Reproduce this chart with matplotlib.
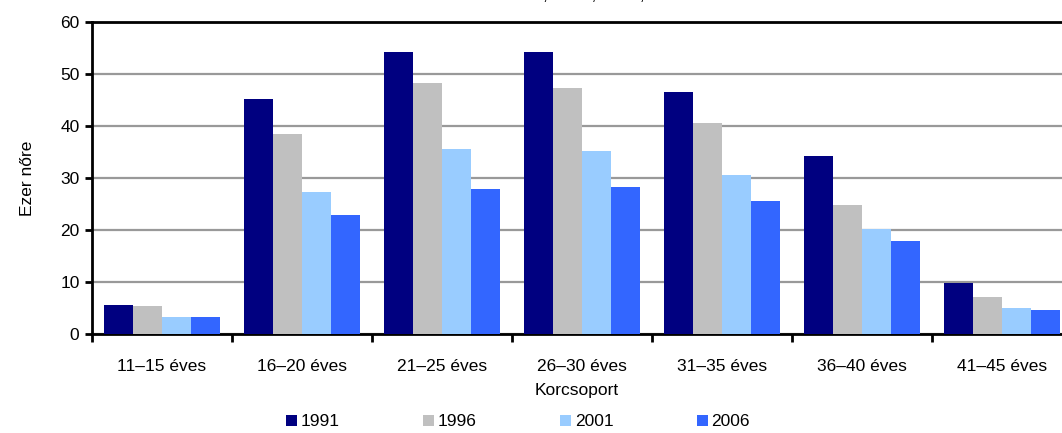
import matplotlib
matplotlib.use("Agg")
import matplotlib.pyplot as plt
import numpy as np

plt.rcParams["font.family"] = ["Liberation Sans", "DejaVu Sans"]

categories = ["11–15 éves", "16–20 éves", "21–25 éves", "26–30 éves",
              "31–35 éves", "36–40 éves", "41–45 éves"]
years = ["1991", "1996", "2001", "2006"]
v1991 = [5.5, 45.2, 54.2, 54.2, 46.5, 34.3, 9.8]
v1996 = [5.3, 38.4, 48.2, 47.3, 40.5, 24.9, 7.1]
v2001 = [3.2, 27.3, 35.5, 35.1, 30.5, 20.1, 5.0]
v2006 = [3.2, 22.9, 27.8, 28.2, 25.5, 17.9, 4.7]
colors = ["#000080", "#C0C0C0", "#99CCFF", "#3366FF"]

fig = plt.figure(figsize=(10.62, 4.33), dpi=100)
ax = fig.add_axes([92 / 1062, 1 - 334 / 433, 980 / 1062, 312 / 433])

x = np.arange(len(categories))
w = 0.207
for i, (vals, yr) in enumerate(zip([v1991, v1996, v2001, v2006], years)):
    ax.bar(x + (i - 1.5) * w, vals, w, color=colors[i], label=yr, zorder=3)

ax.set_xlim(-0.5, len(categories) - 0.5)
ax.set_ylim(0, 60)
ax.set_yticks(range(0, 61, 10))
ax.yaxis.grid(True, color="#999999", linewidth=1.6, zorder=0)
ax.set_axisbelow(True)

ax.set_xticks(np.arange(-0.5, len(categories), 1))
ax.set_xticklabels([])
ax.set_xticks(x, minor=True)
ax.set_xticklabels(categories, minor=True, fontsize=12.5)
ax.tick_params(axis="x", which="minor", length=0, pad=18)
ax.tick_params(axis="x", which="major", length=6, width=2, direction="out")
ax.tick_params(axis="y", length=5, width=2, labelsize=12.5, pad=4)

for s in ["left", "bottom", "top"]:
    ax.spines[s].set_linewidth(2)
    ax.spines[s].set_color("black")
ax.spines["right"].set_visible(False)

ax.set_ylabel("Ezer nőre", fontsize=12.5, labelpad=18)
fig.text(577 / 1062, 1 - 391 / 433, "Korcsoport", fontsize=12.5, ha="center", va="center")
fig.text(596 / 1062, 1 - 0.5 / 433, "1991, 1996, 2001, 2006", fontsize=12.5,
         ha="center", va="baseline")

fig.legend(loc="center", bbox_to_anchor=(518 / 1062, 1 - 422 / 433), ncol=4,
           frameon=False, fontsize=12.5, handlelength=0.65, handleheight=0.65,
           handletextpad=0.2, columnspacing=4.8)

fig.savefig("out.png", dpi=100)
